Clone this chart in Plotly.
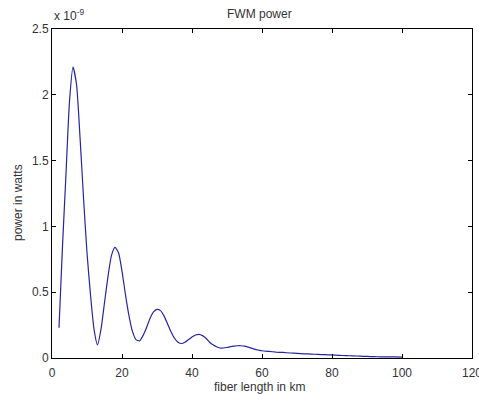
import plotly.graph_objects as go

# fiber length (km)
fiber_km = [2, 3, 4, 5, 6, 7, 8, 9, 10, 11, 12, 13, 14, 15, 16, 17, 18, 19, 20,
            21, 22, 23, 24, 25, 26, 27, 28, 29, 30, 31, 32, 33, 34, 35, 36, 37, 38,
            39, 40, 41, 42, 43, 44, 45, 46, 47, 48, 49, 50, 51, 52, 53, 54, 55, 56,
            57, 58, 59, 60, 62, 64, 66, 68, 70, 72, 74, 76, 78, 80, 82, 84, 86, 88,
            90, 92, 94, 96, 98, 100]
# FWM power in units of 1e-9 W
power_e9 = [0.23, 0.85, 1.40, 1.95, 2.21, 2.08, 1.68, 1.22, 0.80, 0.48, 0.22, 0.10,
            0.22, 0.42, 0.62, 0.78, 0.84, 0.80, 0.66, 0.48, 0.32, 0.20, 0.14, 0.13,
            0.17, 0.23, 0.30, 0.35, 0.37, 0.36, 0.32, 0.26, 0.20, 0.15, 0.12, 0.11,
            0.12, 0.14, 0.16, 0.175, 0.18, 0.17, 0.15, 0.12, 0.10, 0.085, 0.076,
            0.076, 0.08, 0.086, 0.09, 0.093, 0.093, 0.09, 0.083, 0.075, 0.066, 0.06,
            0.055, 0.05, 0.045, 0.042, 0.038, 0.035, 0.032, 0.03, 0.027, 0.025,
            0.023, 0.02, 0.018, 0.016, 0.014, 0.012, 0.01, 0.009, 0.008, 0.008, 0.007]

x_ticks = [0, 20, 40, 60, 80, 100, 120]
y_ticks = [0, 0.5, 1, 1.5, 2, 2.5]
y_tick_labels = ["0", "0.5", "1", "1.5", "2", "2.5"]

fig = go.Figure()
fig.add_trace(go.Scatter(x=fiber_km, y=power_e9, mode="lines",
                         line=dict(color="#2626a0", width=1.2, shape="spline", smoothing=0.6),
                         showlegend=False))

W, H = 479, 394
L, R, T, B = 52, 7, 29, 36
font = dict(family="Liberation Sans, Arial, sans-serif", size=12, color="#333333")

axis_common = dict(showgrid=False, zeroline=False, showline=True, linecolor="black",
                   linewidth=1, mirror="ticks", ticks="inside", ticklen=4,
                   tickcolor="black", tickwidth=1, tickfont=font, automargin=False,
                   ticklabeloverflow="allow")

fig.update_layout(
    width=W, height=H,
    margin=dict(l=L, r=R, t=T, b=B, pad=0, autoexpand=False),
    paper_bgcolor="white", plot_bgcolor="white",
    xaxis=dict(range=[0, 120], tickvals=x_ticks, ticklabelstandoff=4, **axis_common),
    yaxis=dict(range=[0, 2.5], tickvals=y_ticks, ticktext=y_tick_labels, **axis_common),
    annotations=[
        dict(text="FWM power", xref="paper", yref="paper", x=(259 - L) / (W - L - R),
             y=1, yshift=15, xanchor="center", yanchor="middle", showarrow=False, font=font),
        dict(text="fiber length in km", xref="paper", yref="paper", x=(259 - L) / (W - L - R),
             y=0, yshift=-29, xanchor="center", yanchor="middle", showarrow=False, font=font),
        dict(text="power in watts", xref="paper", yref="paper", x=0, xshift=-34,
             y=(H - B - 203) / (H - T - B), textangle=-90, xanchor="center", yanchor="middle",
             showarrow=False, font=font),
        dict(text="x 10<sup>-9</sup>", xref="paper", yref="paper", x=0, y=1, yshift=14,
             xanchor="left", yanchor="middle", showarrow=False, font=font),
    ],
)

fig.write_html("out.html")
